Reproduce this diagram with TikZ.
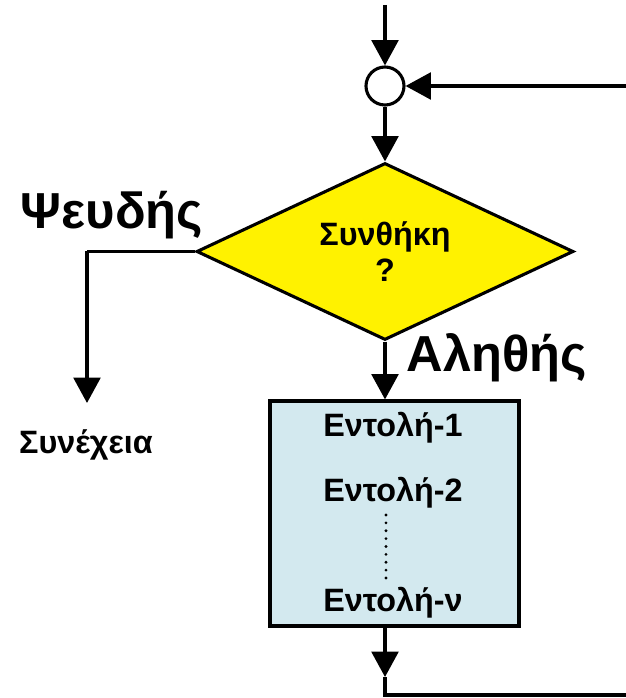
\documentclass[tikz,border=0pt]{standalone}
\usepackage{fontspec}
\setmainfont{Liberation Sans}
\usetikzlibrary{arrows.meta,shapes.geometric}

\definecolor{boxblue}{RGB}{211,233,239}

\tikzset{
  line/.style={line width=2.2pt},
  flow/.style={line width=2.2pt, -{Triangle[length=18pt,width=19pt]}},
  cond/.style={diamond, draw, fill=yellow, line width=2.2pt, inner sep=0pt,
    aspect=2.13, minimum width=9.425cm, minimum height=4.425cm, align=center,
    font=\fontsize{23}{26}\selectfont\bfseries},
  stmts/.style={rectangle, draw, fill=boxblue, line width=2.2pt,
    minimum width=6.225cm, minimum height=5.625cm},
  stmt/.style={font=\fontsize{23}{26}\selectfont\bfseries},
  bigtag/.style={font=\fontsize{36}{40}\selectfont\bfseries},
  smalltag/.style={font=\fontsize{23}{26}\selectfont\bfseries},
}

\begin{document}
\begin{tikzpicture}

  \useasboundingbox (0,0) rectangle (15.65,17.45);

  % junction circle and the incoming lines
  \coordinate (entry) at (9.625,17.325);
  \node[circle, draw, line width=2.2pt, minimum size=0.95cm, inner sep=0pt] (junc) at (9.625,15.3) {};
  \coordinate (back) at (15.65,15.3);

  % condition
  \node[cond] (cond) at (9.625,11.1625) {Συνθήκη\\?};

  % false branch
  \coordinate (fbend) at (2.175,11.1625);
  \coordinate (fend) at (2.175,7.375);
  \node[bigtag] (false) at (2.8,12.075) {Ψευδής};
  \node[smalltag] (next) at (2.15,6.325) {Συνέχεια};

  % true branch
  \node[bigtag, anchor=west] (true) at (10.05,8.5) {Αληθής};

  % loop body
  \node[stmts] (body) at (9.8625,4.6125) {};
  \node[stmt] (s1) at (9.825,6.75) {Εντολή-1};
  \node[stmt] (s2) at (9.825,5.125) {Εντολή-2};
  \node[stmt] (sn) at (9.825,2.375) {Εντολή-ν};
  \coordinate (dtop) at (9.65,4.575);
  \coordinate (dbot) at (9.65,2.9);

  % way back
  \coordinate (btip) at (9.625,0.525);
  \coordinate (bbend) at (9.625,0.075);
  \coordinate (bend) at (15.65,0.075);

  % connectors
  \draw[flow] (entry) -- (junc);
  \draw[flow] (back) -- (junc);
  \draw[flow] (junc) -- (cond);
  \draw[line] (cond.west) -- (fbend);
  \draw[flow] (fbend) -- (fend);
  \draw[flow] (cond.south) -- (junc |- body.north);
  \draw[line width=2.2pt, line cap=round, dash pattern=on 0pt off 5.6pt] (dtop) -- (dbot);
  \draw[flow] (junc |- body.south) -- (btip);
  \draw[line] (btip) -- (bbend) -- (bend);

\end{tikzpicture}
\end{document}
